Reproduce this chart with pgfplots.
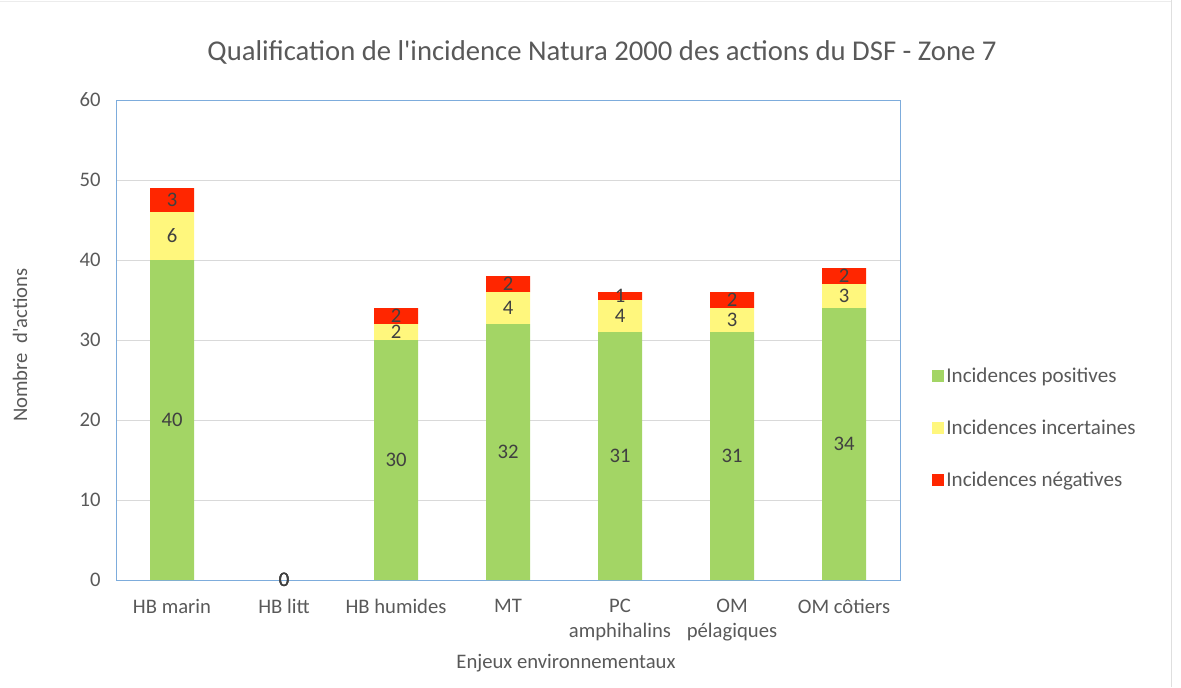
\documentclass[border=0pt]{standalone}
\usepackage{fontspec}
\setmainfont{Carlito}[Ligatures=TeXOff]
\usepackage{pgfplots}
\pgfplotsset{compat=1.18}
\definecolor{cgreen}{RGB}{163,213,101}
\definecolor{cyellow}{RGB}{255,247,125}
\definecolor{cred}{RGB}{255,38,0}
\definecolor{labgray}{RGB}{89,89,89}
\definecolor{datgray}{RGB}{64,64,64}
\definecolor{gridgray}{RGB}{217,217,217}
\definecolor{axisblue}{RGB}{125,172,220}
\begin{document}
\begin{tikzpicture}[x=1pt,y=1pt]
\path[use as bounding box] (0,0) rectangle (885.75,515.25);
\draw[gray!25] (878.25,0) -- (878.25,515.25);
\draw[gray!15] (0,514.6) -- (878.25,514.6);
\begin{axis}[at={(87pt,80.25pt)}, anchor=south west, scale only axis,
  width=588pt, height=360pt,
  ybar stacked, bar width=33pt,
  xmin=-0.5, xmax=6.5, ymin=0, ymax=60,
  ytick={0,10,...,60}, xtick={0,...,6},
  /pgf/number format/assume math mode=true,
  xticklabels={HB marin, HB litt, HB humides, MT, {PC\\amphihalins}, {OM\\pélagiques}, OM côtiers},
  xticklabel style={align=center, anchor=north, yshift=-11pt},
  yticklabel style={anchor=east, xshift=-8pt},
  major tick length=0,
  ymajorgrids, grid style={color=gridgray, line width=0.6pt},
  axis line style={color=axisblue, line width=0.6pt},
  tick label style={font=\fontsize{15.5}{18.5}\selectfont, text=labgray},
  legend style={at={(1.035,0.317)}, anchor=west, draw=none, fill=none,
    font=\fontsize{15.8}{17}\selectfont, text=labgray, row sep=22.5pt},
  legend cell align=left,
  legend image code/.code={\fill[#1] (0pt,-4.5pt) rectangle (9pt,4.5pt);},
]
\addplot[fill=cgreen, draw=none] coordinates {(0,40) (1,0) (2,30) (3,32) (4,31) (5,31) (6,34)};
\addlegendentry{Incidences positives}
\addplot[fill=cyellow, draw=none] coordinates {(0,6) (1,0) (2,2) (3,4) (4,4) (5,3) (6,3)};
\addlegendentry{Incidences incertaines}
\addplot[fill=cred, draw=none] coordinates {(0,3) (1,0) (2,2) (3,2) (4,1) (5,2) (6,2)};
\addlegendentry{Incidences négatives}
\end{axis}
\begin{axis}[at={(87pt,80.25pt)}, anchor=south west, scale only axis,
  width=588pt, height=360pt, hide axis,
  xmin=-0.5, xmax=6.5, ymin=0, ymax=60]
\addplot[draw=none, mark=none, nodes near coords, point meta=explicit symbolic,
  every node near coord/.append style={anchor=center, font=\fontsize{15.5}{17}\selectfont, text=datgray}]
  table[meta=lab] {
x y lab
0 20 40
0 43 6
0 47.5 3
1 0 0
1 0 0
1 0 0
2 15 30
2 31 2
2 33 2
3 16 32
3 34 4
3 37 2
4 15.5 31
4 33 4
4 35.5 1
5 15.5 31
5 32.5 3
5 35 2
6 17 34
6 35.5 3
6 38 2
};
\end{axis}
\node[font=\fontsize{21.5}{24}\selectfont, text=labgray] at (451.5,476.25) {Qualification de l'incidence Natura 2000 des actions du DSF - Zone 7};
\node[font=\fontsize{15.5}{17}\selectfont, text=labgray, rotate=90] at (15,256.5) {Nombre\ \ d'actions};
\node[font=\fontsize{15.5}{17}\selectfont, text=labgray] at (424.5,18) {Enjeux environnementaux};
\end{tikzpicture}
\end{document}
